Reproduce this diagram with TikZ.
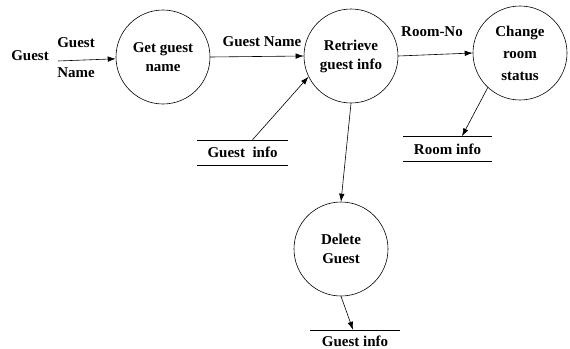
\documentclass[tikz,border=0pt]{standalone}
\usepackage{fontspec}
\setmainfont{Liberation Serif}
\usetikzlibrary{arrows.meta}
\begin{document}
\begin{tikzpicture}[x=1pt,y=-1pt,
  every node/.style={font=\fontsize{15}{19}\selectfont\bfseries},
  proc/.style={draw, circle, line width=0.6pt, minimum size=94pt, inner sep=0pt, align=center},
  store/.style={minimum height=25pt, inner sep=0pt},
  flow/.style={line width=0.6pt, -{Latex[length=8pt,width=5.5pt]}},
  rule/.style={line width=0.6pt}]
\useasboundingbox (0,0) rectangle (570,348);

% processes
\node[proc] (c1) at (163,57) {Get guest\\name};
\node[proc] (c2) at (351,56) {Retrieve\\guest info};
\node[proc, font=\fontsize{15}{22}\selectfont\bfseries] (c3) at (520,53) {Change\\room\\status};
\node[proc] (c4) at (341,249) {Delete\\Guest};

% external entity and data stores
\node (guest) at (30,56) {Guest};
\node[store, minimum width=91pt] (s1) at (242.5,152.5) {Guest\ \ info};
\node[store, minimum width=89pt] (s2) at (447.5,149) {Room info};
\node[store, minimum width=90pt, minimum height=22pt] (s3) at (355,341) {Guest info};
\draw[rule] (s1.north west) -- (s1.north east) (s1.south west) -- (s1.south east);
\draw[rule] (s2.north west) -- (s2.north east) (s2.south west) -- (s2.south east);
\draw[rule] (s3.north west) -- (s3.north east);

% flows
\coordinate (gin) at (58,61);
\draw[flow] (gin) -- (c1);
\node (lg1) at (76,43) {Guest};
\node (lg2) at (76,73) {Name};

\draw[flow] (c1.east) -- (c2.west);
\node (lgn) at (262,42) {Guest Name};

\draw[flow] (c2.east) -- (c3.west);
\node (lrn) at (432,32) {Room-No};

\draw[flow] ([xshift=10pt]s1.north) -- (c2.206);
\draw[flow] (c3.227) -- ([xshift=14.5pt]s2.north);
\draw[flow] (c2.south) -- (c4.north);
\draw[flow] (c4.south) -- ([xshift=-2pt]s3.north);
\end{tikzpicture}
\end{document}
